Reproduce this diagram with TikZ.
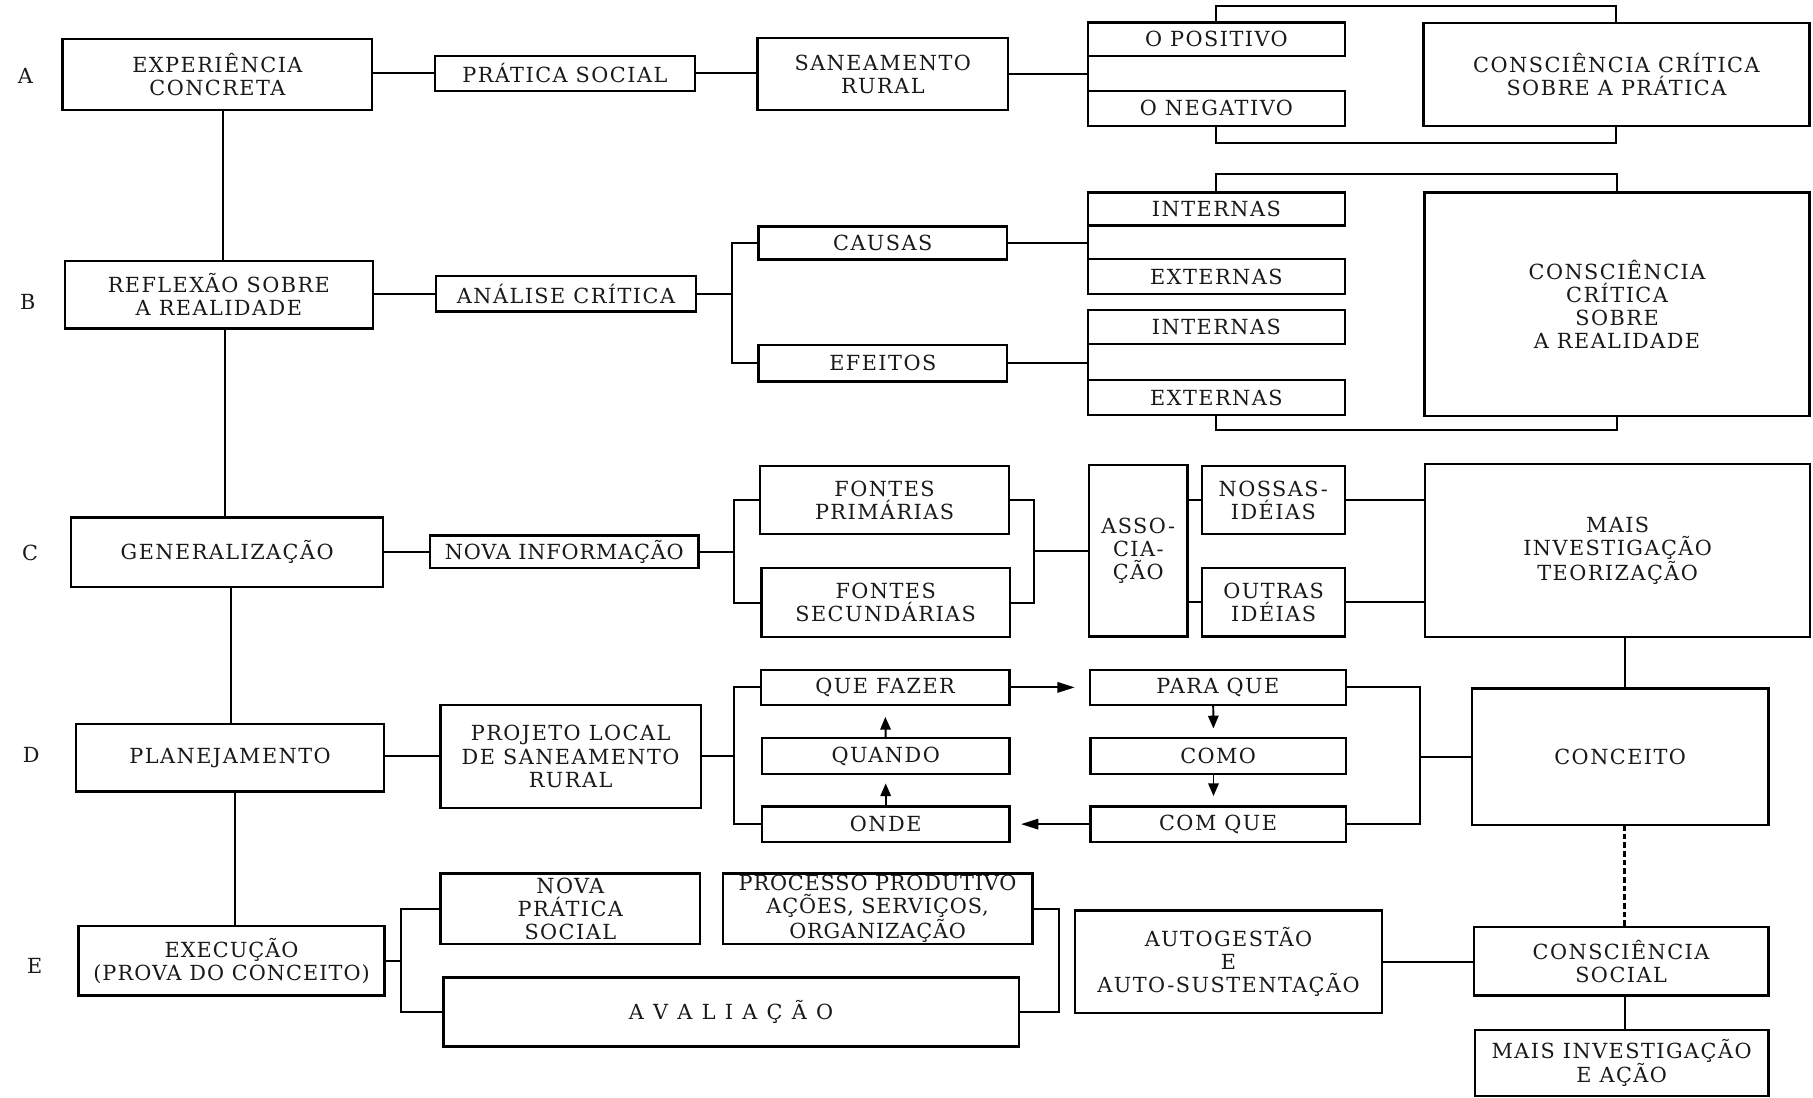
\documentclass[tikz,border=0pt]{standalone}
\usepackage{fontspec}
\setmainfont{DejaVu Serif}[LetterSpace=7]
\usetikzlibrary{arrows.meta}
% box given by its corners (x1,y1) (x2,y2): name, x1, y1, x2, y2, text
\newcommand{\bnode}[6]{%
  \node[box, minimum width={#4-#2}, minimum height={#5-#3}] (#1)
    at ({(#2+#4)/2},{(#3+#5)/2}) {#6};}
\newcommand{\lgap}{\hspace{8pt}}
\begin{document}
\begin{tikzpicture}[x=1pt,y=-1pt,
  every node/.style={font=\fontsize{18}{20}\selectfont, text=black!90},
  box/.style={draw, line width=2pt, rectangle, inner sep=0pt, outer sep=0pt, align=center},
  link/.style={line width=1.7pt},
  arrh/.style={line width=1.7pt, -{Triangle[length=15pt,width=9pt]}},
  arrv/.style={line width=1.7pt, -{Triangle[length=11pt,width=9pt]}},
  dashlink/.style={line width=2.2pt, dash pattern=on 5pt off 2.5pt}
]
\useasboundingbox (0,0) rectangle (1568,949);

% ---------- row labels
\node (la) at (22,66) {A};
\node (lb) at (24,261) {B};
\node (lc) at (26,478.5) {C};
\node (ld) at (27,653) {D};
\node (le) at (30,835.5) {E};

% ---------- A: experiencia concreta
\bnode{exp}{54}{34}{322}{95}{EXPERIÊNCIA\\CONCRETA}
\bnode{pratica}{376}{48.5}{601}{78.5}{PRÁTICA SOCIAL}
\bnode{san}{655}{33}{872}{95}{SANEAMENTO\\RURAL}
\bnode{pos}{941}{19.5}{1163}{48.5}{O POSITIVO}
\bnode{neg}{941}{78.5}{1163}{109}{O NEGATIVO}
\bnode{ccp}{1231}{20}{1565}{109}{CONSCIÊNCIA CRÍTICA\\SOBRE A PRÁTICA}

% ---------- B: reflexao
\bnode{refl}{56}{225.5}{322.5}{284}{REFLEXÃO SOBRE\\A REALIDADE}
\bnode{analise}{377}{239}{602}{269.5}{ANÁLISE CRÍTICA}
\bnode{causas}{656}{196}{871}{224.5}{CAUSAS}
\bnode{efeitos}{656}{298.5}{871}{330}{EFEITOS}
\bnode{intc}{941}{166.5}{1163}{195}{INTERNAS}
\bnode{extc}{941}{224}{1163}{254.5}{EXTERNAS}
\bnode{inte}{941}{268}{1163}{297.5}{INTERNAS}
\bnode{exte}{941}{328.5}{1163}{359}{EXTERNAS}
\bnode{ccr}{1232}{166.5}{1565}{360}{CONSCIÊNCIA\\CRÍTICA\\SOBRE\\A REALIDADE}

% ---------- C: generalizacao
\bnode{gen}{61.5}{447.5}{331.5}{507.5}{GENERALIZAÇÃO}
\bnode{novainf}{372}{463}{604}{491.5}{\addfontfeature{LetterSpace=4}NOVA INFORMAÇÃO}
\bnode{fprim}{657.5}{403}{872.5}{462}{FONTES\\PRIMÁRIAS}
\bnode{fsec}{658.5}{491.5}{873.5}{551}{FONTES\\SECUNDÁRIAS}
\bnode{assoc}{942}{402}{1027}{550.5}{ASSO-\\CIA-\\ÇÃO}
\bnode{nossas}{1039.5}{403}{1163}{462}{NOSSAS-\\IDÉIAS}
\bnode{outras}{1039.5}{491.5}{1163.5}{550.5}{OUTRAS\\IDÉIAS}
\bnode{mais}{1232.5}{401.5}{1565.5}{551}{MAIS\\INVESTIGAÇÃO\\TEORIZAÇÃO}

% ---------- D: planejamento
\bnode{plan}{66}{626}{332}{684.5}{PLANEJAMENTO}
\bnode{projeto}{381}{609.5}{606}{699}{PROJETO LOCAL\\DE SANEAMENTO\\RURAL}
\bnode{quefazer}{658}{579.5}{873}{609.5}{QUE FAZER}
\bnode{quando}{659}{638.5}{873}{669.5}{QUANDO}
\bnode{onde}{659}{697.5}{873}{728}{ONDE}
\bnode{paraque}{942.5}{579.5}{1164}{609.5}{PARA QUE}
\bnode{como}{943}{638.5}{1164}{669.5}{COMO}
\bnode{comque}{943}{697.5}{1164}{728}{COM QUE}
\bnode{conceito}{1273}{595.5}{1529.5}{713.5}{CONCEITO}

% ---------- E: execucao
\bnode{exec}{68}{801}{332.5}{861}{\addfontfeature{LetterSpace=5}EXECUÇÃO\\\addfontfeature{LetterSpace=5}(PROVA DO CONCEITO)}
\bnode{novapratica}{381}{755.5}{605.5}{816.5}{NOVA\\PRÁTICA\\SOCIAL}
\bnode{processo}{625}{755.5}{893}{816.5}{\addfontfeature{LetterSpace=4}PROCESSO PRODUTIVO\\\addfontfeature{LetterSpace=4}AÇÕES, SERVIÇOS,\\\addfontfeature{LetterSpace=4}ORGANIZAÇÃO}
\bnode{avaliacao}{383.5}{845.5}{881}{905}{A\lgap V\lgap A\lgap L\lgap I\lgap A\lgap Ç\lgap Ã\lgap O}
\bnode{autog}{930}{787.5}{1195}{876}{AUTOGESTÃO\\E\\AUTO-SUSTENTAÇÃO}
\bnode{cs}{1274.5}{802}{1529.5}{861}{CONSCIÊNCIA\\SOCIAL}
\bnode{maisacao}{1275.5}{891}{1529.5}{948}{MAIS INVESTIGAÇÃO\\E AÇÃO}

% ---------- x positions of vertical runs
\coordinate (s1) at (192.5,0);
\coordinate (s2) at (195,0);
\coordinate (s3) at (200,0);
\coordinate (s4) at (203,0);
\coordinate (jb) at (633,0);
\coordinate (jc) at (635,0);
\coordinate (kc) at (894,0);
\coordinate (jd) at (635,0);
\coordinate (kd) at (1228.5,0);
\coordinate (je) at (347,0);
\coordinate (ke) at (916,0);
\coordinate (sp) at (1405,0);

% ---------- left spine
\draw[link] (exp.south -| s1) -- (refl.north -| s1);
\draw[link] (refl.south -| s2) -- (gen.north -| s2);
\draw[link] (gen.south -| s3) -- (plan.north -| s3);
\draw[link] (plan.south -| s4) -- (exec.north -| s4);

% ---------- A
\draw[link] (pratica.west -| exp.east) -- (pratica.west);
\draw[link] (pratica.east) -- (pratica.east -| san.west);
\draw[link] (san.east) -- (san.east -| pos.west);
\draw[link] (pos.south west) -- (neg.north west);
\draw[link] (pos.north) -- ([yshift=14pt]pos.north) -| (ccp.north);
\draw[link] (neg.south) -- ([yshift=-14.5pt]neg.south) -| (ccp.south);

% ---------- B
\draw[link] (analise.west -| refl.east) -- (analise.west);
\draw[link] (analise.east) -- (analise.east -| jb);
\draw[link] (causas.west) -- (causas.west -| jb) -- (efeitos.west -| jb) -- (efeitos.west);
\draw[link] (causas.east) -- (causas.east -| intc.west);
\draw[link] (intc.south west) -- (extc.north west);
\draw[link] (efeitos.east) -- (efeitos.east -| inte.west);
\draw[link] (inte.south west) -- (exte.north west);
\draw[link] (intc.north) -- ([yshift=16pt]intc.north) -| (ccr.north);
\draw[link] (exte.south) -- ([yshift=-13pt]exte.south) -| (ccr.south);

% ---------- C
\draw[link] (novainf.west -| gen.east) -- (novainf.west);
\draw[link] (novainf.east) -- (novainf.east -| jc);
\draw[link] (fprim.west) -- (fprim.west -| jc) -- (fsec.west -| jc) -- (fsec.west);
\draw[link] (fprim.east) -- (fprim.east -| kc) -- (fsec.east -| kc) -- (fsec.east);
\draw[link] (assoc.west -| kc) -- (assoc.west);
\draw[link] (nossas.west -| assoc.east) -- (nossas.west);
\draw[link] (outras.west -| assoc.east) -- (outras.west);
\draw[link] (nossas.east) -- (nossas.east -| mais.west);
\draw[link] (outras.east) -- (outras.east -| mais.west);
\draw[link] (mais.south -| sp) -- (conceito.north -| sp);

% ---------- D
\draw[link] (projeto.west -| plan.east) -- (projeto.west);
\draw[link] (projeto.east) -- (projeto.east -| jd);
\draw[link] (quefazer.west) -- (quefazer.west -| jd) -- (onde.west -| jd) -- (onde.west);
\draw[arrh, shorten >=13pt] (quefazer.east) -- (paraque.west);
\draw[arrv, shorten >=8.5pt] ([xshift=-4pt]paraque.south) -- ([xshift=-4pt]como.north);
\draw[arrv, shorten >=9pt] ([xshift=-4pt]como.south) -- ([xshift=-4pt]comque.north);
\draw[arrh, shorten >=10pt] (comque.west) -- (onde.east);
\draw[arrv, shorten >=8pt] (onde.north) -- (quando.south);
\draw[arrv, shorten >=10.5pt] (quando.north) -- (quefazer.south);
\draw[link] (paraque.east) -- (paraque.east -| kd) -- (comque.east -| kd) -- (comque.east);
\draw[link] (conceito.west -| kd) -- (conceito.west);
\draw[dashlink] (conceito.south -| sp) -- (cs.north -| sp);

% ---------- E
\draw[link] (exec.east) -- (exec.east -| je);
\draw[link] (novapratica.west) -- (novapratica.west -| je) -- (avaliacao.west -| je) -- (avaliacao.west);
\draw[link] (processo.east) -- (processo.east -| ke) -- (avaliacao.east -| ke) -- (avaliacao.east);
\draw[link] (autog.east) -- (autog.east -| cs.west);
\draw[link] (cs.south -| sp) -- (maisacao.north -| sp);
\end{tikzpicture}
\end{document}
